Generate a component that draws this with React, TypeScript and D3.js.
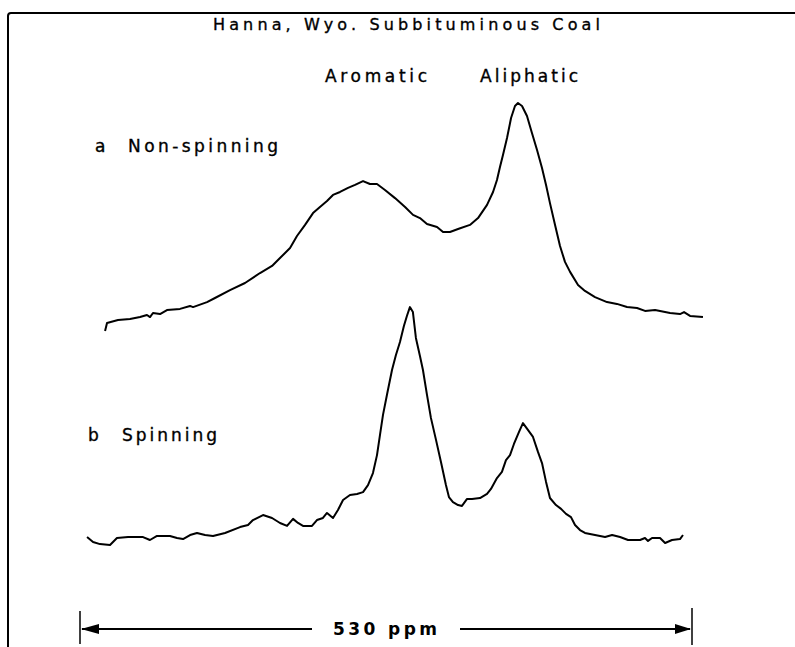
import React from "react";
import * as d3 from "d3";

// Chemical shift offsets (ppm, measured from the left end of the scale bar) and relative intensities
const shiftA = [21.7, 23.4, 32.9, 43.3, 52.0, 58.0, 60.6, 63.2, 69.3, 75.3, 86.6, 95.3, 97.9, 110.0, 116.9, 129.9, 142.9, 155.9, 166.3, 173.2, 181.9, 187.9, 194.9, 201.8, 207.8, 213.9, 219.1, 225.2, 232.1, 238.2, 245.1, 251.1, 257.2, 264.1, 272.8, 281.5, 288.4, 294.4, 300.5, 309.2, 314.4, 320.4, 327.4, 337.7, 344.7, 352.5, 357.7, 361.1, 363.7, 366.3, 369.8, 373.3, 376.7, 379.3, 382.8, 387.1, 391.4, 395.8, 400.1, 403.6, 407.0, 411.4, 415.7, 420.0, 424.4, 431.3, 437.3, 446.0, 456.4, 465.0, 473.7, 482.4, 489.3, 498.0, 511.0, 519.6, 523.1, 528.3, 539.5];
const intensityA = [-0.4, 3.1, 4.4, 4.8, 5.7, 6.6, 5.7, 7.5, 7.0, 8.8, 9.3, 10.6, 10.1, 12.3, 14.1, 17.6, 20.7, 25.1, 28.2, 31.7, 36.1, 41.4, 46.3, 51.5, 54.2, 56.8, 59.5, 60.8, 62.6, 63.9, 65.6, 64.3, 64.3, 61.7, 58.1, 54.2, 50.7, 49.3, 46.7, 45.4, 43.2, 43.2, 44.5, 46.3, 49.3, 55.1, 60.8, 66.1, 71.8, 77.1, 84.6, 93.4, 98.7, 100, 98.7, 94.3, 86.8, 79.3, 71.4, 63.9, 55.9, 46.3, 37.0, 30.0, 25.6, 19.8, 17.2, 14.5, 12.3, 11.5, 10.1, 9.7, 8.4, 8.8, 7.5, 7.0, 7.9, 6.2, 5.7];

const shiftB = [6.1, 11.3, 17.3, 26.0, 32.0, 41.6, 54.6, 60.6, 66.7, 77.9, 84.0, 89.2, 95.3, 101.3, 108.3, 115.2, 125.6, 138.6, 145.5, 149.8, 158.5, 166.3, 173.2, 179.3, 184.5, 188.8, 193.1, 200.9, 205.2, 210.4, 213.9, 219.1, 223.4, 227.8, 233.8, 239.9, 245.1, 249.4, 253.7, 257.2, 259.8, 262.4, 265.8, 270.2, 273.6, 277.1, 280.5, 283.1, 285.7, 288.3, 290.9, 294.4, 297.0, 300.5, 303.9, 308.3, 312.6, 316.9, 319.5, 323.0, 327.4, 330.8, 335.2, 339.5, 346.4, 352.5, 355.9, 361.1, 365.4, 368.9, 372.4, 375.8, 380.2, 383.6, 387.9, 392.3, 396.6, 400.1, 403.6, 407.0, 412.2, 416.6, 420.9, 425.2, 428.7, 433.0, 437.3, 446.0, 454.7, 460.8, 467.7, 474.6, 485.0, 489.3, 491.9, 495.4, 502.3, 506.7, 512.7, 519.6, 522.2];
const intensityB = [3.5, 1.3, 0.4, 0, 3.1, 3.5, 3.5, 2.2, 4.0, 4.0, 3.1, 2.6, 4.4, 5.3, 4.4, 4.0, 5.3, 7.9, 8.8, 11.0, 13.2, 11.9, 9.7, 8.4, 11.5, 9.7, 8.4, 8.4, 11.0, 11.9, 14.1, 11.9, 15.4, 19.8, 22.0, 22.5, 23.3, 26.4, 31.7, 39.6, 48.5, 57.3, 66.1, 77.1, 83.7, 89.4, 96.5, 100.9, 104.8, 102.6, 91.2, 83.3, 77.1, 66.1, 56.0, 46.3, 36.6, 26.4, 21.1, 18.9, 17.6, 17.2, 20.3, 20.3, 20.7, 22.5, 24.7, 29.5, 32.2, 37.4, 39.6, 44.5, 49.8, 53.7, 50.7, 47.6, 41.0, 36.1, 27.8, 20.7, 17.6, 15.9, 13.7, 12.3, 8.8, 6.6, 5.3, 4.4, 3.5, 4.4, 3.5, 2.2, 2.2, 3.1, 1.8, 3.1, 3.1, 0.9, 2.2, 2.6, 4.4];

const scaleBarPpm = [0, 530];
const titleText = "Hanna, Wyo. Subbituminous Coal";
const regionLabels = ["Aromatic", "Aliphatic"];
const traceLabels = [["a", "Non-spinning"], ["b", "Spinning"]];
const scaleLabel = "530 ppm";

const W = 795;
const H = 647;

export default function App() {
  const x = d3.scaleLinear().domain(scaleBarPpm).range([80, 692]);
  const yA = d3.scaleLinear().domain([0, 100]).range([330, 103]);
  const yB = d3.scaleLinear().domain([0, 100]).range([545, 318]);

  const dataA = shiftA.map((s, i) => [s, intensityA[i]] as [number, number]);
  const dataB = shiftB.map((s, i) => [s, intensityB[i]] as [number, number]);

  const lineA = d3.line<[number, number]>().x((d) => x(d[0])).y((d) => yA(d[1])).curve(d3.curveLinear);
  const lineB = d3.line<[number, number]>().x((d) => x(d[0])).y((d) => yB(d[1])).curve(d3.curveLinear);

  const font = "'DejaVu Sans', sans-serif";
  const x0 = x(scaleBarPpm[0]);
  const x1 = x(scaleBarPpm[1]);
  const barY = 629;
  const txt = { fontFamily: font, fill: "#000", stroke: "#000", strokeWidth: 0.35 } as const;

  return (
    <svg
      width={W}
      height={H}
      style={{ position: "absolute", left: 0, top: 0, background: "#fff" }}
    >
      <rect x={0} y={0} width={W} height={H} fill="#fff" />
      {/* frame */}
      <path d={`M8,${H} L8,16 Q8,13 11,13 L${W},13`} fill="none" stroke="#000" strokeWidth={2} />

      {/* title */}
      <text x={213} y={30} {...txt} fontSize={16} textLength={387} lengthAdjust="spacing">
        {titleText}
      </text>

      {/* region labels */}
      <text x={325} y={82} {...txt} fontSize={17} textLength={102} lengthAdjust="spacing">
        {regionLabels[0]}
      </text>
      <text x={480} y={82} {...txt} fontSize={17} textLength={98} lengthAdjust="spacing">
        {regionLabels[1]}
      </text>

      {/* trace labels */}
      <text x={95} y={152} {...txt} fontSize={17}>{traceLabels[0][0]}</text>
      <text x={128} y={152} {...txt} fontSize={17} textLength={150} lengthAdjust="spacing">
        {traceLabels[0][1]}
      </text>
      <text x={88} y={441} {...txt} fontSize={17}>{traceLabels[1][0]}</text>
      <text x={122} y={441} {...txt} fontSize={17} textLength={95} lengthAdjust="spacing">
        {traceLabels[1][1]}
      </text>

      {/* spectra */}
      <path d={lineA(dataA) || ""} fill="none" stroke="#000" strokeWidth={2} strokeLinejoin="round" />
      <path d={lineB(dataB) || ""} fill="none" stroke="#000" strokeWidth={2} strokeLinejoin="round" />

      {/* scale bar */}
      <line x1={x0} x2={x0} y1={611} y2={644} stroke="#000" strokeWidth={1.5} />
      <line x1={x1} x2={x1} y1={608} y2={645} stroke="#000" strokeWidth={1.5} />
      <line x1={x0 + 2} x2={312} y1={barY} y2={barY} stroke="#000" strokeWidth={2} />
      <line x1={460} x2={x1 - 2} y1={barY} y2={barY} stroke="#000" strokeWidth={2} />
      <path d={`M${x0 + 1},${barY} L${x0 + 19},${barY - 5} L${x0 + 19},${barY + 5} Z`} fill="#000" />
      <path d={`M${x1 - 1},${barY} L${x1 - 17},${barY - 5} L${x1 - 17},${barY + 5} Z`} fill="#000" />
      <text x={333} y={635} fontFamily={font} fill="#000" fontSize={17} fontWeight="bold" textLength={104} lengthAdjust="spacing">
        {scaleLabel}
      </text>
    </svg>
  );
}
